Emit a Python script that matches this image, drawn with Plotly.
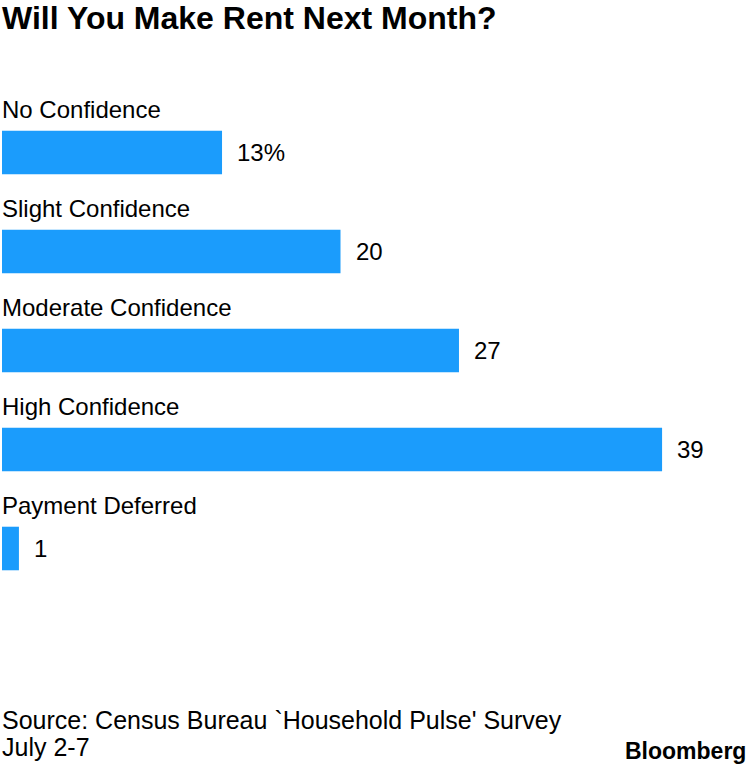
import plotly.graph_objects as go

categories = ["No Confidence", "Slight Confidence", "Moderate Confidence", "High Confidence", "Payment Deferred"]
values = [13, 20, 27, 39, 1]
value_labels = ["13%", "20", "27", "39", "1"]

BLUE = "#1b9cfc"
FONT = "Liberation Sans, Arial, sans-serif"

W, H = 750, 766
L, R, T, B = 2, 71, 103, 168
plot_h = H - T - B

def py(p):
    return (H - B - p) / plot_h

pos = list(range(len(categories)))

fig = go.Figure()
fig.add_trace(go.Bar(
    x=values, y=pos, orientation="h",
    marker=dict(color=BLUE, line=dict(width=0)),
    width=0.44, hoverinfo="skip",
))

ann = []
for i, (c, v, t) in enumerate(zip(categories, values, value_labels)):
    ann.append(dict(x=0, y=i - 0.43, xref="x", yref="y", text=c, showarrow=False,
                    xanchor="left", yanchor="middle", xshift=-2,
                    font=dict(family=FONT, size=24, color="#000")))
    ann.append(dict(x=v, y=i, xref="x", yref="y", text=t, showarrow=False,
                    xanchor="left", yanchor="middle", xshift=13,
                    font=dict(family=FONT, size=24, color="#000")))

ann.append(dict(x=0, y=py(720), xref="paper", yref="paper", xshift=-2,
                text="Source: Census Bureau `Household Pulse' Survey", showarrow=False,
                xanchor="left", yanchor="middle", font=dict(family=FONT, size=25, color="#000")))
ann.append(dict(x=0, y=py(747), xref="paper", yref="paper", xshift=-2,
                text="July 2-7", showarrow=False,
                xanchor="left", yanchor="middle", font=dict(family=FONT, size=25, color="#000")))
ann.append(dict(x=(748 - L) / (W - L - R), y=py(751), xref="paper", yref="paper",
                text="<b>Bloomberg</b>", showarrow=False,
                xanchor="right", yanchor="middle", font=dict(family=FONT, size=23, color="#000")))
ann.append(dict(x=0, y=py(18), xref="paper", yref="paper", xshift=-2,
                text="<b>Will You Make Rent Next Month?</b>", showarrow=False,
                xanchor="left", yanchor="middle", font=dict(family=FONT, size=32, color="#000")))

fig.update_layout(
    width=W, height=H,
    margin=dict(l=L, r=R, t=T, b=B),
    paper_bgcolor="white", plot_bgcolor="white",
    showlegend=False,
    xaxis=dict(range=[0, 40], visible=False, fixedrange=True),
    yaxis=dict(range=[4.5, -0.5], visible=False, fixedrange=True),
    annotations=ann,
)

fig.write_html("out.html", config={"displayModeBar": False},
               post_script="document.body.style.margin='0';document.body.style.overflow='hidden';")
